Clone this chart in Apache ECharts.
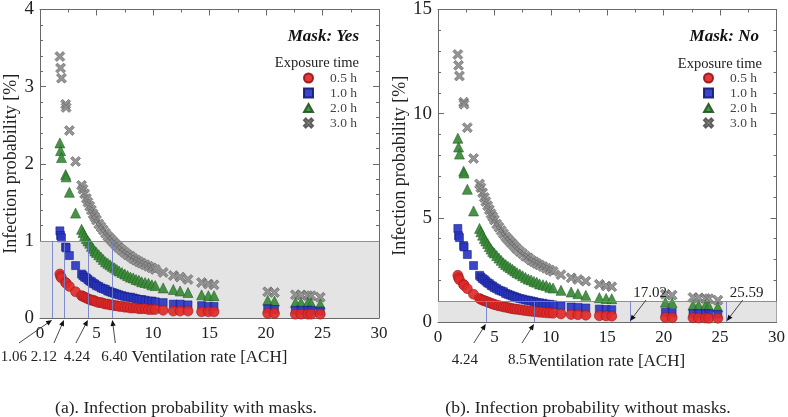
<!DOCTYPE html>
<html><head><meta charset="utf-8">
<script src="https://cdn.jsdelivr.net/npm/echarts@6/dist/echarts.min.js"></script>
<style>html,body{margin:0;padding:0;background:#fff}#c{width:788px;height:417px}</style>
</head><body><div id="c"></div>
<script>
// ---- data ----
const ventilation = [1.76,1.82,1.90,2.27,2.31,2.60,3.15,3.68,3.80,3.95,4.10,4.24,4.40,4.55,4.70,4.85,5.00,5.20,5.40,5.60,5.80,6.00,6.20,6.40,6.60,6.80,7.00,7.25,7.50,7.75,8.00,8.25,8.50,8.75,9.00,9.30,9.60,9.90,10.20,10.90,11.80,12.40,13.10,14.30,14.90,15.40,20.15,20.75,22.60,23.10,23.70,24.00,24.80];
// Mask: Yes
const yes30 = [3.39,3.24,3.11,2.77,2.73,2.43,2.03,1.72,1.67,1.61,1.55,1.50,1.45,1.40,1.35,1.31,1.27,1.22,1.18,1.14,1.10,1.06,1.03,1.00,0.97,0.94,0.91,0.88,0.85,0.82,0.80,0.77,0.75,0.73,0.71,0.69,0.67,0.65,0.63,0.59,0.55,0.53,0.50,0.46,0.44,0.43,0.34,0.33,0.30,0.30,0.29,0.29,0.27];
const yes20 = [2.27,2.17,2.08,1.86,1.83,1.63,1.36,1.15,1.11,1.07,1.03,1.00,0.97,0.93,0.90,0.87,0.85,0.82,0.79,0.76,0.73,0.71,0.69,0.67,0.65,0.63,0.61,0.59,0.57,0.55,0.53,0.52,0.50,0.49,0.47,0.46,0.45,0.43,0.42,0.39,0.37,0.35,0.33,0.30,0.29,0.29,0.23,0.22,0.20,0.20,0.20,0.19,0.18];
const yes10 = [1.13,1.07,1.04,0.92,0.91,0.81,0.68,0.57,0.55,0.53,0.52,0.50,0.48,0.47,0.45,0.44,0.42,0.41,0.39,0.38,0.37,0.35,0.34,0.33,0.32,0.31,0.30,0.29,0.28,0.27,0.27,0.26,0.25,0.24,0.24,0.23,0.22,0.22,0.21,0.20,0.18,0.18,0.17,0.16,0.15,0.15,0.12,0.11,0.10,0.10,0.10,0.10,0.09];
const yes05 = [0.57,0.54,0.52,0.46,0.45,0.41,0.34,0.29,0.28,0.27,0.26,0.25,0.24,0.23,0.23,0.22,0.21,0.20,0.20,0.19,0.18,0.18,0.17,0.17,0.16,0.16,0.15,0.15,0.14,0.14,0.13,0.13,0.13,0.12,0.12,0.12,0.11,0.11,0.11,0.10,0.09,0.09,0.09,0.08,0.08,0.08,0.06,0.06,0.05,0.05,0.05,0.05,0.05];
// Mask: No
const no30 = [12.84,12.32,11.81,10.55,10.45,9.33,7.85,6.63,6.45,6.20,5.98,5.78,5.58,5.39,5.20,5.05,4.90,4.70,4.55,4.39,4.24,4.09,3.97,3.85,3.74,3.62,3.51,3.39,3.28,3.16,3.08,2.97,2.89,2.81,2.74,2.66,2.58,2.50,2.43,2.27,2.12,2.04,1.96,1.81,1.73,1.69,1.33,1.29,1.18,1.16,1.13,1.12,1.05];
const no20 = [8.82,8.40,8.06,7.24,7.15,6.37,5.33,4.49,4.33,4.17,4.01,3.89,3.77,3.62,3.50,3.39,3.31,3.19,3.07,2.96,2.84,2.76,2.68,2.61,2.53,2.45,2.37,2.30,2.22,2.14,2.06,2.02,1.95,1.91,1.83,1.79,1.75,1.67,1.63,1.52,1.44,1.36,1.28,1.17,1.13,1.12,0.95,0.92,0.81,0.80,0.80,0.77,0.72];
const no10 = [4.49,4.14,4.05,3.67,3.60,3.24,2.71,2.24,2.16,2.08,2.03,1.96,1.88,1.84,1.76,1.72,1.65,1.60,1.53,1.49,1.45,1.37,1.33,1.29,1.25,1.21,1.17,1.13,1.10,1.06,1.04,1.01,0.98,0.94,0.92,0.90,0.86,0.85,0.82,0.78,0.72,0.70,0.67,0.62,0.60,0.59,0.47,0.45,0.41,0.41,0.40,0.40,0.37];
const no05 = [2.24,2.12,2.03,1.80,1.76,1.60,1.33,1.13,1.09,1.05,1.02,1.00,0.96,0.93,0.90,0.87,0.84,0.81,0.78,0.76,0.73,0.71,0.69,0.66,0.64,0.62,0.61,0.59,0.57,0.55,0.53,0.52,0.50,0.49,0.47,0.46,0.44,0.43,0.42,0.39,0.36,0.35,0.33,0.30,0.29,0.28,0.22,0.21,0.20,0.19,0.19,0.18,0.18];
const seriesNames = ['0.5 h','1.0 h','2.0 h','3.0 h'];
const thresholdYes = 1, thresholdNo = 1;
const marksYes = [1.06, 2.12, 4.24, 6.40];
const marksNo = [4.24, 8.51, 17.02, 25.59];

// ---- styling ----
const FONT = '"Liberation Serif","DejaVu Serif",serif';
const crossPath = 'path://M2,0 L5,3 L8,0 L10,2 L7,5 L10,8 L8,10 L5,7 L2,10 L0,8 L3,5 L0,2 Z';
const squarePath = 'path://M0,0 L10,0 L10,10 L0,10 Z';
const triPath = 'path://M5,0 L10,9 L0,9 Z';
const styles = {
  '0.5 h': {symbol:'circle', size:10, legendIcon:'circle', color:'#e02a2a', border:'#9a1515'},
  '1.0 h': {symbol:'rect', size:8, legendIcon:squarePath, color:'#2a36c4', border:'#141d7a'},
  '2.0 h': {symbol:'triangle', size:10, legendIcon:triPath, color:'#3a8a3a', border:'#1f5a1f'},
  '3.0 h': {symbol:crossPath, size:10, legendIcon:crossPath, color:'#8c8c8c', border:'#555555'}
};

function pairs(ys){ return ventilation.map((x,i)=>[x, ys[i]]); }

function scatter(name, ys, axisIdx){
  const s = styles[name];
  return {
    name, type:'scatter', xAxisIndex:axisIdx, yAxisIndex:axisIdx,
    symbol:s.symbol, symbolSize:s.size, z:3,
    itemStyle:{color:s.color, borderColor:s.border, borderWidth:0.6, opacity:0.92},
    emphasis:{disabled:true}, data:pairs(ys)
  };
}

function helper(axisIdx, thr, marks){
  const lines = [[{coord:[0,thr]},{coord:[30,thr]}]];
  marks.forEach(m => lines.push([{coord:[m,0]},{coord:[m,thr]}]));
  return {
    type:'scatter', xAxisIndex:axisIdx, yAxisIndex:axisIdx, data:[], z:1, silent:true,
    markArea:{silent:true, itemStyle:{color:'#e4e4e4'}, data:[[{coord:[0,0]},{coord:[30,thr]}]]},
    markLine:{silent:true, symbol:['none','none'], label:{show:false},
      lineStyle:{color:'#7380c8', width:0.9, type:'solid'}, data:lines}
  };
}

function xAx(grid, top){
  return {
    gridIndex:grid, type:'value', min:0, max:30, interval:5, position: top?'top':'bottom',
    axisLine:{show:true, onZero:false, lineStyle:{color:'#6a6a6a', width:1}},
    axisTick:{show:true, inside:true, length:6, lineStyle:{color:'#6a6a6a'}},
    minorTick:{show:true, splitNumber:2, length:3, lineStyle:{color:'#6a6a6a'}},
    splitLine:{show:false},
    axisLabel:{show:!top, fontFamily:FONT, fontSize:17, color:'#222', margin:7},
    name: top? '' : 'Ventilation rate [ACH]', nameLocation:'middle', nameGap:31,
    nameTextStyle:{fontFamily:FONT, fontSize:17, color:'#222'}
  };
}
function yAx(grid, right, max, step, minorN){
  return {
    gridIndex:grid, type:'value', min:0, max:max, interval:step, position: right?'right':'left',
    axisLine:{show:true, onZero:false, lineStyle:{color:'#6a6a6a', width:1}},
    axisTick:{show:true, inside:true, length:6, lineStyle:{color:'#6a6a6a'}},
    minorTick:{show:true, splitNumber:minorN, length:3, lineStyle:{color:'#6a6a6a'}},
    splitLine:{show:false},
    axisLabel:{show:!right, fontFamily:FONT, fontSize:19, color:'#222', margin:6},
    name: right? '' : 'Infection probability [%]', nameLocation:'middle', nameGap: max>9?27:20,
    nameTextStyle:{fontFamily:FONT, fontSize:18, color:'#222'}
  };
}

const chart = echarts.init(document.getElementById('c'));
function legendAt(left){
  return {
    left, top:66, orient:'vertical', itemWidth:9, itemHeight:9, itemGap:1, selectedMode:false,
    data: seriesNames.map(n => ({name:n, icon:styles[n].legendIcon})),
    formatter: n => '{p|}' + n,
    textStyle:{fontFamily:FONT, fontSize:13.5, color:'#444', rich:{p:{width:12}}}
  };
}
chart.setOption({
  animation:false,
  grid:[{left:40, top:7, width:339, height:311}, {left:438, top:7, width:341, height:315}],
  xAxis:[xAx(0,false), xAx(0,true), xAx(1,false), xAx(1,true)],
  yAxis:[yAx(0,false,4,1,5), yAx(0,true,4,1,5), yAx(1,false,15,5,5), yAx(1,true,15,5,5)],
  title:[
    {text:'Mask: Yes', right:424, top:23, textStyle:{fontFamily:FONT, fontSize:17, fontStyle:'italic', fontWeight:'bold', color:'#111'}},
    {text:'Exposure time', right:424, top:51, textStyle:{fontFamily:FONT, fontSize:14.5, fontWeight:'normal', color:'#222'}},
    {text:'Mask: No', right:24, top:23, textStyle:{fontFamily:FONT, fontSize:17, fontStyle:'italic', fontWeight:'bold', color:'#111'}},
    {text:'Exposure time', right:21, top:52, textStyle:{fontFamily:FONT, fontSize:14.5, fontWeight:'normal', color:'#222'}}
  ],
  legend:[legendAt(298), legendAt(698)],
  series:[
    helper(0, thresholdYes, marksYes),
    scatter('3.0 h', yes30, 0), scatter('2.0 h', yes20, 0), scatter('1.0 h', yes10, 0), scatter('0.5 h', yes05, 0),
    helper(2, thresholdNo, marksNo),
    scatter('3.0 h', no30, 2), scatter('2.0 h', no20, 2), scatter('1.0 h', no10, 2), scatter('0.5 h', no05, 2)
  ]
});

// ---- annotation arrows (label offsets relative to the arrow tip on the x axis) ----
const offsYes = [[-33,25,-38,39],[-10,25,-20,39],[-12,25,-11,39],[3,25,2,39]];
const offsNo = [[-12,21,-21,38],[-12,21,-13,38],[16,-22,20,-29],[16,-22,20,-29]];
const els = [];
function addArrow(axisIdx, v, off){
  const p = chart.convertToPixel({xAxisIndex:axisIdx, yAxisIndex:axisIdx}, [v, 0]);
  const tip = [p[0], p[1] + (off[1] > 0 ? 2 : -1)];
  const tail = [p[0] + off[0], p[1] + off[1]];
  const dx = tip[0]-tail[0], dy = tip[1]-tail[1], L = Math.hypot(dx,dy);
  const ux = dx/L, uy = dy/L, nx = -uy, ny = ux, hl = 6, hw = 2.6;
  els.push({type:'line', shape:{x1:tail[0], y1:tail[1], x2:tip[0]-ux*hl*0.5, y2:tip[1]-uy*hl*0.5}, style:{stroke:'#333', lineWidth:0.9}, z:10});
  els.push({type:'polygon', shape:{points:[tip,[tip[0]-ux*hl+nx*hw, tip[1]-uy*hl+ny*hw],[tip[0]-ux*hl-nx*hw, tip[1]-uy*hl-ny*hw]]}, style:{fill:'#111'}, z:10});
  els.push({type:'text', x:p[0]+off[2], y:p[1]+off[3], z:10,
    style:{text:v.toFixed(2), fontFamily:FONT, fontSize:15, fill:'#222', align:'center', verticalAlign:'middle'}});
}
marksYes.forEach((v,i)=>addArrow(0, v, offsYes[i]));
marksNo.forEach((v,i)=>addArrow(2, v, offsNo[i]));
els.push({type:'text', x:186, y:408, style:{text:'(a). Infection probability with masks.', fontFamily:FONT, fontSize:17.6, fill:'#222', align:'center', verticalAlign:'middle'}});
els.push({type:'text', x:588, y:408, style:{text:'(b). Infection probability without masks.', fontFamily:FONT, fontSize:17.6, fill:'#222', align:'center', verticalAlign:'middle'}});
chart.setOption({graphic:{elements:els}});
</script>
</body></html>
